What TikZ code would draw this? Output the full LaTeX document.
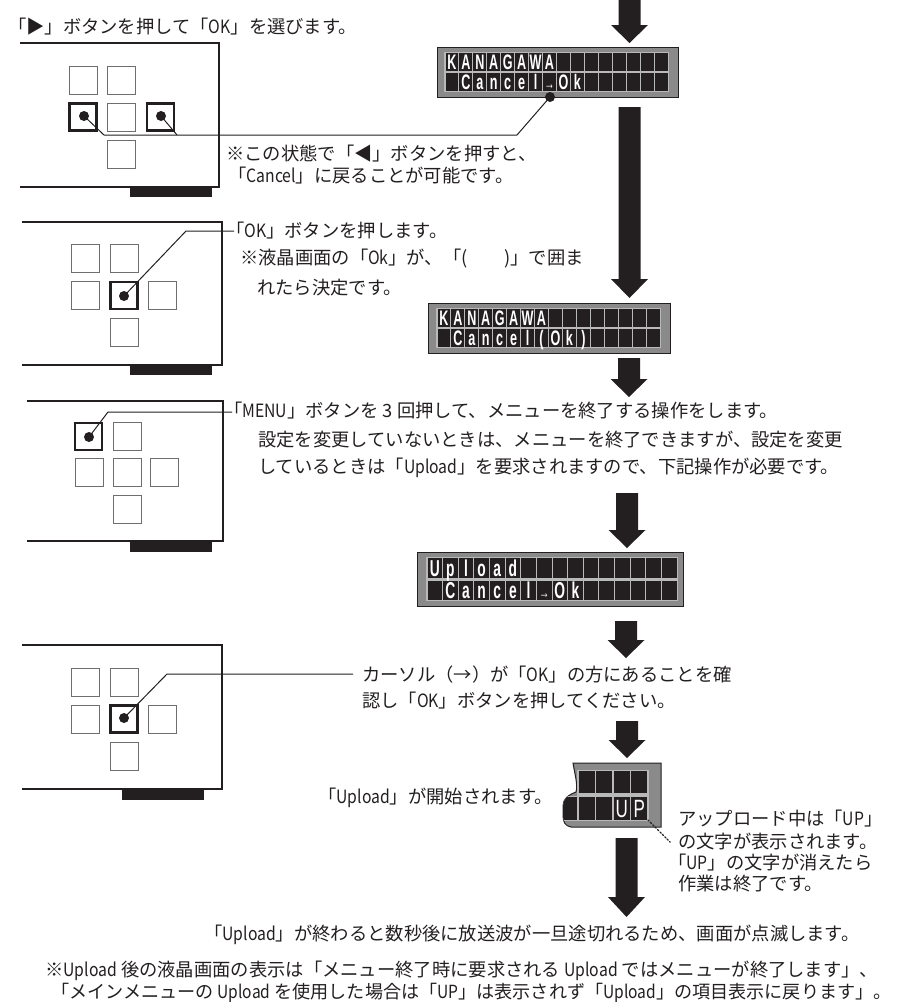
\documentclass[tikz,border=0pt]{standalone}
\usepackage{fontspec}
\setmainfont{Noto Sans CJK JP}
\newfontfamily\lcdfont{Liberation Sans}
\definecolor{ink}{RGB}{35,31,32}
\definecolor{lcdgray}{RGB}{138,138,138}
\definecolor{lcdgap}{RGB}{185,185,185}
\definecolor{btngray}{RGB}{110,110,110}
\tikzset{
  txt/.style={anchor=west, inner sep=0pt, text=ink, font=\fontsize{18.3}{18.3}\selectfont},
  frameline/.style={draw=ink, line width=1.2pt},
  bar/.style={fill=ink},
  btn/.style={draw=btngray, line width=1pt, minimum width=28pt, minimum height=28pt, inner sep=0pt},
  btnbold/.style={btn, draw=ink, line width=2.8pt, minimum width=27pt, minimum height=27pt},
  dotn/.style={circle, fill=ink, inner sep=0pt, minimum size=10pt},
  leader/.style={draw=ink, line width=1pt},
  dotleader/.style={draw=ink, line width=1.4pt, dotted, line cap=round},
  lcdframe/.style={fill=lcdgray, draw=ink, line width=1pt},
  lcdcell/.style={fill=ink},
  lcdch/.style={text=white, inner sep=0pt, anchor=base},
  bigarrow/.style={fill=ink},
}
\newcommand\flowarrow[4]{% cx, top, head start, tip
  \fill[bigarrow] (#1-11,#2) -- (#1+11,#2) -- (#1+11,#3) -- (#1+18.5,#3) -- (#1,#4) -- (#1-18.5,#3) -- (#1-11,#3) -- cycle;}
\newcommand\lat[1]{\scalebox{0.86}[1]{#1}}
\newcommand\lcdglyph[1]{\scalebox{0.6}[1]{\lcdfont\bfseries\fontsize{21}{21}\selectfont #1}}
\newcommand\lcdglyphb[1]{\scalebox{0.6}[1]{\lcdfont\bfseries\fontsize{23}{23}\selectfont #1}}
\newcommand\lcdarr{{\mdseries\fontsize{17}{17}\selectfont →}}
% cell area x0,y0,x1,y1, row1 bottom, row2 top
\newcommand\lcdgrid[6]{%
  \fill[lcdgap] (#1-1,#2-1) rectangle (#3+1,#4+1);
  \foreach \c in {0,...,15}{
    \fill[lcdcell] ({#1+\c*(#3-#1)/16+0.5},#2) rectangle ({#1+(\c+1)*(#3-#1)/16-0.5},#5);
    \fill[lcdcell] ({#1+\c*(#3-#1)/16+0.5},#6) rectangle ({#1+(\c+1)*(#3-#1)/16-0.5},#4);
  }}
\begin{document}
\begin{tikzpicture}[x=1pt,y=-1pt]
\useasboundingbox (0,0) rectangle (904,1002);

% ---------- big flow arrows ----------
\flowarrow{629.5}{-2}{25}{43}
\flowarrow{629.5}{107}{279}{298}
\flowarrow{629}{358}{379}{397}
\flowarrow{627}{493}{530}{548}
\flowarrow{626}{621}{640}{658}
\flowarrow{627}{721}{740}{758}
\flowarrow{626.5}{838}{897}{917}

% ---------- top text ----------
\node[txt] (t0) at (8,27) {「▶」ボタンを押して「\lat{OK}」を選びます。};

% ---------- panel 1 ----------
\draw[frameline] (20,43) -- (219,43) -- (219,187) -- (20,187);
\fill[bar] (130,187) rectangle (212,197);
\node[btn] (p1a) at (83,80) {};
\node[btn] (p1b) at (121,80) {};
\node[btnbold] (p1c) at (83,117) {};
\node[btn] (p1d) at (121,117) {};
\node[btnbold] (p1e) at (160.5,117) {};
\node[btn] (p1f) at (121,154) {};
\node[dotn] (p1dl) at (84,116) {};
\node[dotn] (p1dr) at (161,116) {};

% LCD 1
\draw[lcdframe] (437,47) rectangle (678,97);
\lcdgrid{445}{53}{668}{91}{71}{73}
\foreach \ch [count=\k] in {K,A,N,A,G,A,W,A}
  \node[lcdch] (la\k) at ({445+(\k-0.5)*13.9375},69.5) {\lcdglyph{\ch}};
\foreach \ch [count=\k from 2] in {C,a,n,c,e,l,\lcdarr,O,k}
  \node[lcdch] (lb\k) at ({445+(\k-0.5)*13.9375},89.5) {\lcdglyph{\ch}};
\node[dotn] (lcddot) at (550,97) {};

\coordinate (k1) at (104,135);
\coordinate (k2) at (517,135);
\coordinate (k3) at (177,135);
\draw[leader] (p1dl.center) -- (k1) -- (k2) -- (lcddot.center);
\draw[leader] (p1dr.center) -- (k3);

\node[txt] (t1a) at (226,154) {※この状態で「◀」ボタンを押すと、};
\node[txt] (t1b) at (228,176) {「\lat{Cancel}」に戻ることが可能です。};

% ---------- panel 2 ----------
\draw[frameline] (22,222) -- (222,222) -- (222,365) -- (22,365);
\fill[bar] (130,365) rectangle (212,375);
\node[btn] (p2a) at (85,258.5) {};
\node[btn] (p2b) at (124,258.5) {};
\node[btn] (p2c) at (85,295.5) {};
\node[btnbold] (p2d) at (124,295.5) {};
\node[btn] (p2e) at (162.5,295.5) {};
\node[btn] (p2f) at (124,332.5) {};
\node[dotn] (p2dot) at (124,296) {};
\coordinate (k4) at (186,231);
\coordinate (k5) at (234,231);
\draw[leader] (p2dot.center) -- (k4) -- (k5);

\node[txt] (t2a) at (226,231) {「\lat{OK}」ボタンを押します。};
\node[txt] (t2b) at (240,259) {※液晶画面の「\lat{Ok}」が、「(　　)」で囲ま};
\node[txt] (t2c) at (257,288) {れたら決定です。};

% LCD 2
\draw[lcdframe] (428,303) rectangle (670,353);
\lcdgrid{437}{309}{660}{347}{327}{329}
\foreach \ch [count=\k] in {K,A,N,A,G,A,W,A}
  \node[lcdch] (lc\k) at ({437+(\k-0.5)*13.9375},325.5) {\lcdglyph{\ch}};
\foreach \ch [count=\k from 2] in {C,a,n,c,e,l,{(},O,k,{)}}
  \node[lcdch] (ld\k) at ({437+(\k-0.5)*13.9375},345.5) {\lcdglyph{\ch}};

% ---------- panel 3 ----------
\draw[frameline] (27,401) -- (223,401) -- (223,541) -- (27,541);
\fill[bar] (130,541) rectangle (212,552);
\node[btnbold] (p3a) at (88.5,436.5) {};
\node[btn] (p3b) at (127,436) {};
\node[btn] (p3c) at (89,472) {};
\node[btn] (p3d) at (127,472) {};
\node[btn] (p3e) at (164.5,472) {};
\node[btn] (p3f) at (127,509) {};
\node[dotn] (p3dot) at (89,437) {};
\coordinate (k6) at (108,412);
\coordinate (k7) at (232,412);
\draw[leader] (p3dot.center) -- (k6) -- (k7);

\node[txt] (t3a) at (224,411) {「\lat{MENU}」ボタンを 3 回押して、メニューを終了する操作をします。};
\node[txt] (t3b) at (258,440) {設定を変更していないときは、メニューを終了できますが、設定を変更};
\node[txt] (t3c) at (258,468) {しているときは「\lat{Upload}」を要求されますので、下記操作が必要です。};

% LCD 3
\draw[lcdframe] (417,552) rectangle (683,606);
\lcdgrid{427}{558}{677}{600}{578}{581}
\foreach \ch [count=\k] in {U,p,l,o,a,d}
  \node[lcdch] (le\k) at ({427+(\k-0.5)*15.625},576.5) {\lcdglyphb{\ch}};
\foreach \ch [count=\k from 2] in {C,a,n,c,e,l,\lcdarr,O,k}
  \node[lcdch] (lf\k) at ({427+(\k-0.5)*15.625},598.5) {\lcdglyphb{\ch}};

% ---------- panel 4 ----------
\draw[frameline] (22,645) -- (222,645) -- (222,789) -- (22,789);
\fill[bar] (122,789) rectangle (204,800);
\node[btn] (p4a) at (85,682) {};
\node[btn] (p4b) at (124,682) {};
\node[btn] (p4c) at (85,719) {};
\node[btnbold] (p4d) at (124,719) {};
\node[btn] (p4e) at (162.5,719) {};
\node[btn] (p4f) at (124,756) {};
\node[dotn] (p4dot) at (124,718) {};
\coordinate (k8) at (167,674);
\coordinate (k9) at (353,674);
\draw[leader] (p4dot.center) -- (k8) -- (k9);

\node[txt] (t4a) at (362,675) {カーソル（→）が「\lat{OK}」の方にあることを確};
\node[txt] (t4b) at (362,701) {認し「\lat{OK}」ボタンを押してください。};

% ---------- LCD 4 (UP, torn) ----------
\path[fill=lcdgray, draw=ink, line width=1pt] (573,763) -- (661,763) -- (661,827) -- (571,827)
  .. controls (565,826) and (563,822) .. (563,815) -- (563,806)
  .. controls (563,799) and (568,795) .. (576,792)
  .. controls (578,785) and (575,775) .. (573,763) -- cycle;
\begin{scope}
  \clip (573,763) -- (661,763) -- (661,827) -- (571,827)
  .. controls (565,826) and (563,822) .. (563,815) -- (563,806)
  .. controls (563,799) and (568,795) .. (576,792)
  .. controls (578,785) and (575,775) .. (573,763) -- cycle;
  \fill[lcdgap] (577,770) rectangle (649,821);
  \fill[lcdgap] (555,796) rectangle (578,821);
  \foreach \c in {0,1,2,3}{
    \fill[lcdcell] ({578+\c*17.5+0.6},771) rectangle ({578+(\c+1)*17.5-0.6},793);
    \fill[lcdcell] ({578+\c*17.5+0.6},797) rectangle ({578+(\c+1)*17.5-0.6},820);
  }
  \fill[lcdcell] (555,797) rectangle (576.9,820);
\end{scope}
\node[lcdch] (lgU) at (621.75,817.5) {\scalebox{0.68}[1]{\lcdfont\fontsize{25}{25}\selectfont U}};
\node[lcdch] (lgP) at (639.25,817.5) {\scalebox{0.68}[1]{\lcdfont\fontsize{25}{25}\selectfont P}};
\coordinate (k10) at (648,820);
\coordinate (k11) at (670,842);
\draw[dotleader] (k10) -- (k11);

\node[txt] (t5) at (318,798) {「\lat{Upload}」が開始されます。};
\node[txt] (t6a) at (678,819) {アップロード中は「\lat{UP}」};
\node[txt] (t6b) at (678,841) {の文字が表示されます。};
\node[txt] (t6c) at (668,863) {「\lat{UP}」の文字が消えたら};
\node[txt] (t6d) at (678,884) {作業は終了です。};

% ---------- bottom text ----------
\node[txt] (t7) at (204,935) {「\lat{Upload}」が終わると数秒後に放送波が一旦途切れるため、画面が点滅します。};
\node[txt] (t8a) at (45,971) {※\lat{Upload} 後の液晶画面の表示は「メニュー終了時に要求される \lat{Upload} ではメニューが終了します」、};
\node[txt, font=\fontsize{18.1}{18.1}\selectfont] (t8b) at (51,993) {「メインメニューの \lat{Upload} を使用した場合は「\lat{UP}」は表示されず「\lat{Upload}」の項目表示に戻ります」。};
\end{tikzpicture}
\end{document}
